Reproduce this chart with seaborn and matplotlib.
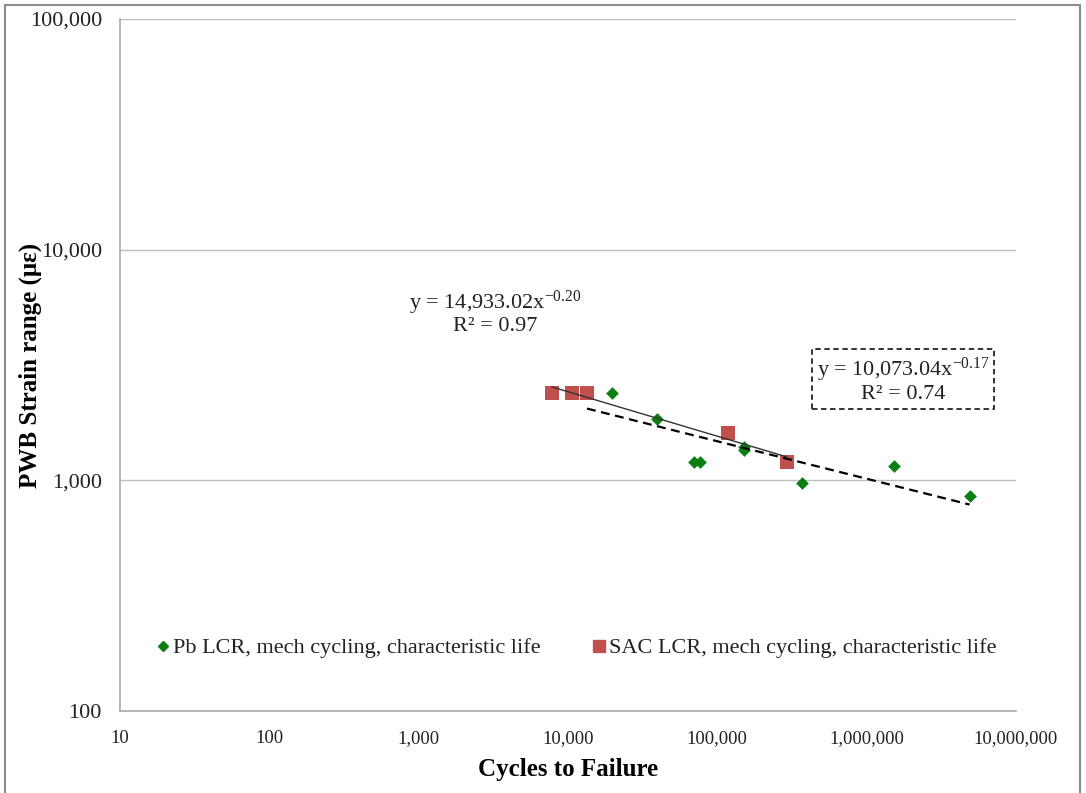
import numpy as np
import pandas as pd
import seaborn as sns
import matplotlib
matplotlib.use("Agg")
import matplotlib.pyplot as plt
from matplotlib.ticker import FuncFormatter, NullLocator
from matplotlib.lines import Line2D
from matplotlib.patches import Rectangle

# ---- data ----
pb_label = "Pb LCR, mech cycling, characteristic life"
sac_label = "SAC LCR, mech cycling, characteristic life"

pb_cycles = [13400, 19700, 39300, 70000, 76000, 150000, 150000, 370000, 1520000, 4890000]
pb_strain = [2400, 2400, 1850, 1200, 1200, 1400, 1350, 975, 1150, 855]

sac_cycles = [7800, 10600, 13400, 117000, 292000]
sac_strain = [2400, 2400, 2400, 1600, 1200]

sac_eq = ["y = 14,933.02x$^{\\mathregular{-0.20}}$", "R\u00b2 = 0.97"]
pb_eq = ["y = 10,073.04x$^{\\mathregular{-0.17}}$", "R\u00b2 = 0.74"]

x_ticks = [10, 100, 1000, 10000, 100000, 1000000, 10000000]
y_ticks = [100, 1000, 10000, 100000]

# ---- style ----
sns.set_theme(style="white")
plt.rcParams["font.family"] = ["Liberation Serif", "DejaVu Serif"]
plt.rcParams["mathtext.fontset"] = "custom"
plt.rcParams["mathtext.rm"] = "Liberation Serif"
plt.rcParams["mathtext.it"] = "Liberation Serif:italic"
plt.rcParams["mathtext.bf"] = "Liberation Serif:bold"

green = "#0B7F12"
red = "#C0504D"
txt = "#222222"

df = pd.DataFrame({
    "cycles": pb_cycles + sac_cycles,
    "strain": pb_strain + sac_strain,
    "series": [pb_label] * len(pb_cycles) + [sac_label] * len(sac_cycles),
})

fig = plt.figure(figsize=(10.86, 7.93), dpi=100)
ax = fig.add_axes([120 / 1086, 1 - 711 / 793, 896 / 1086, 692 / 793])

sns.scatterplot(data=df[df.series == pb_label], x="cycles", y="strain", ax=ax,
                marker="D", s=42, color=green, edgecolor=green, linewidth=0,
                legend=False, zorder=3)
sns.scatterplot(data=df[df.series == sac_label], x="cycles", y="strain", ax=ax,
                marker="s", s=100, color=red, edgecolor=red, linewidth=0,
                legend=False, zorder=4)

ax.set_xscale("log")
ax.set_yscale("log")
ax.set_xlim(10, 1e7)
ax.set_ylim(100, 1e5)


def power_fit(xs, ys):
    lx, ly = np.log10(xs), np.log10(ys)
    b, a = np.polyfit(lx, ly, 1)
    xx = np.logspace(lx.min(), lx.max(), 100)
    return xx, 10 ** a * xx ** b


xs, ys = power_fit(np.array(sac_cycles, float), np.array(sac_strain, float))
ax.plot(xs, ys, color="#333333", lw=1.0, zorder=5)
xp, yp = power_fit(np.array(pb_cycles, float), np.array(pb_strain, float))
ax.plot(xp, yp, color="black", lw=1.6, ls=(0, (4, 2.5)), zorder=5)

# ticks / grid
ax.set_xticks(x_ticks)
ax.set_yticks(y_ticks)
ax.xaxis.set_minor_locator(NullLocator())
ax.yaxis.set_minor_locator(NullLocator())
fmt = FuncFormatter(lambda v, p: f"{int(round(v)):,}")
ax.xaxis.set_major_formatter(fmt)
ax.yaxis.set_major_formatter(fmt)
ax.tick_params(axis="both", which="major", colors=txt, length=6, width=1, direction="out")
ax.tick_params(axis="x", labelsize=13.5, pad=8, color="#AAAAAA")
ax.tick_params(axis="y", labelsize=16, pad=7, color="#AAAAAA")
ax.yaxis.grid(True, color="#BFBFBF", lw=1)
ax.xaxis.grid(False)
for s in ["top", "right"]:
    ax.spines[s].set_visible(False)
for s in ["left", "bottom"]:
    ax.spines[s].set_color("#AAAAAA")
    ax.spines[s].set_linewidth(1.2)

ax.set_xlabel("Cycles to Failure", fontsize=18, fontweight="bold", color="black")
ax.set_ylabel("PWB Strain range (\u03bc\u03b5)", fontsize=18, fontweight="bold", color="black")
ax.xaxis.set_label_coords(0.5, -0.068)
ax.yaxis.set_label_coords(-0.087, 0.5)

# equations
ax.text(0.4185, 0.590, sac_eq[0], transform=ax.transAxes, ha="center", va="center", fontsize=16, color=txt)
ax.text(0.4185, 0.555, sac_eq[1], transform=ax.transAxes, ha="center", va="center", fontsize=16, color=txt)
ax.text(0.874, 0.478, pb_eq[0] + "\n" + pb_eq[1], transform=ax.transAxes, ha="center", va="center",
        fontsize=16, color=txt, linespacing=1.05,
        bbox=dict(boxstyle="square,pad=0.2", fc="white", ec="#222222", lw=1.3, ls=(0, (3, 2))))

# legend
handles = [
    Line2D([], [], marker="D", ls="", color=green, markersize=5),
    Line2D([], [], marker="s", ls="", color=red, markersize=9),
]
ax.legend(handles, [pb_label, sac_label], loc="center", bbox_to_anchor=(0.508, 0.091),
          ncol=2, frameon=False, fontsize=16, handletextpad=0.05, columnspacing=2.2,
          handlelength=0.8, labelcolor=txt)

# outer chart border
fig.patches.append(Rectangle((5 / 1086, -0.02), 1075 / 1086, 1.02 - 5 / 793, transform=fig.transFigure,
                             fill=False, ec="#8C8C8C", lw=1.5))

fig.savefig("out.png", dpi=100)
